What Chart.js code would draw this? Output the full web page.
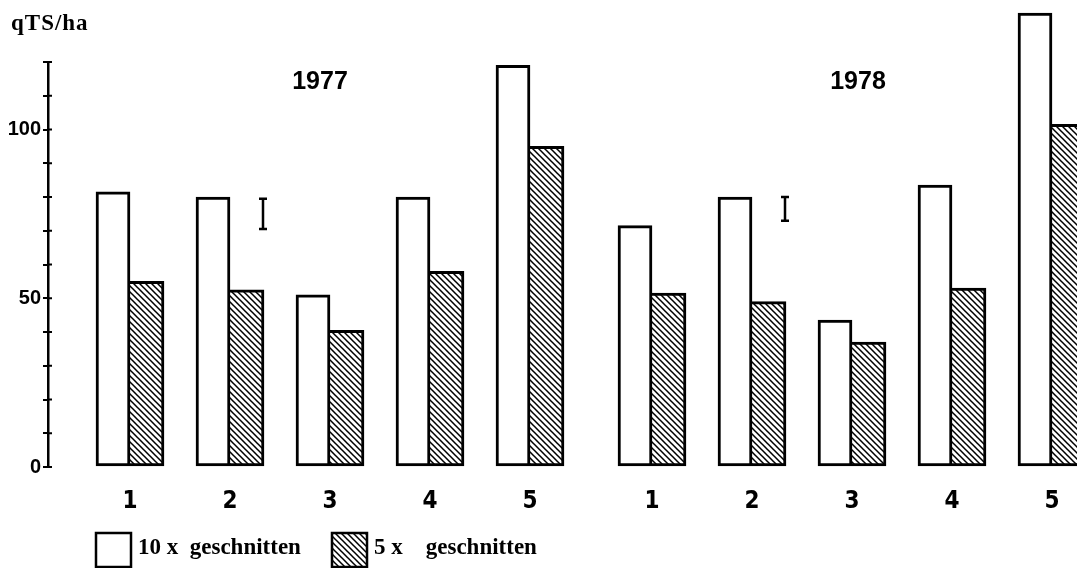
<!DOCTYPE html>
<html>
<head>
<meta charset="utf-8">
<script src="https://cdn.jsdelivr.net/npm/chart.js@4"></script>
<style>
  html, body { margin: 0; padding: 0; background: #fff; }
  #wrap { width: 1077px; height: 568px; position: relative; }
</style>
</head>
<body>
<div id="wrap"><canvas id="chart"></canvas></div>
<script>
// Daten
const groups = ["1", "2", "3", "4", "5"];
const years = ["1977", "1978"];
const cut10 = [81.5, 80, 51, 80, 119, 71.5, 80, 43.5, 83.5, 134.5];
const cut5 = [55, 52.5, 40.5, 58, 95, 51.5, 49, 37, 53, 101.5];
const lsd = [[70.5, 79.5], [73, 80]];
const labelTicks = [0, 50, 100];
const legendNames = ["10 x  geschnitten", "5 x    geschnitten"];

// 5 Gruppen je Jahr, kleine Lücke zwischen den Jahren
const yearGap = 0.22;
const xPos = cut10.map((v, i) => i + Math.floor(i / groups.length) * yearGap);
const xLabels = years.flatMap(() => groups);

function hatch() {
  const c = document.createElement("canvas");
  c.width = 6; c.height = 6;
  const g = c.getContext("2d");
  g.fillStyle = "#fff";
  g.fillRect(0, 0, 6, 6);
  g.strokeStyle = "#000";
  g.lineWidth = 1.5;
  g.beginPath();
  g.moveTo(-1, -1); g.lineTo(7, 7);
  g.moveTo(-1, 5); g.lineTo(1, 7);
  g.moveTo(5, -1); g.lineTo(7, 1);
  g.stroke();
  return g.createPattern(c, "repeat");
}

const extras = {
  id: "extras",
  afterDatasetsDraw(chart) {
    const ctx = chart.ctx;
    const x = chart.scales.x, y = chart.scales.y;
    ctx.save();
    ctx.fillStyle = "#000";
    ctx.strokeStyle = "#000";

    // Einheit
    ctx.font = 'bold 23px "Liberation Serif", serif';
    ctx.letterSpacing = "1px";
    ctx.textAlign = "left";
    ctx.textBaseline = "alphabetic";
    ctx.fillText("qTS/ha", 11, 30);
    ctx.letterSpacing = "0px";

    // Jahre
    ctx.font = 'bold 25px "Liberation Sans", Arial, sans-serif';
    ctx.textAlign = "center";
    ctx.textBaseline = "middle";
    years.forEach((yr, k) => {
      const mid = xPos[k * groups.length + 2];
      ctx.fillText(yr, x.getPixelForValue(mid + (k === 0 ? -0.1 : 0.06)), chart.chartArea.top + 20);
    });

    // GD-Balken
    ctx.lineWidth = 2.5;
    lsd.forEach((r, k) => {
      const px = x.getPixelForValue(xPos[k * groups.length + 1] + 0.33);
      const y0 = y.getPixelForValue(r[0]), y1 = y.getPixelForValue(r[1]);
      ctx.beginPath();
      ctx.moveTo(px, y0); ctx.lineTo(px, y1);
      ctx.moveTo(px - 4, y0); ctx.lineTo(px + 4, y0);
      ctx.moveTo(px - 4, y1); ctx.lineTo(px + 4, y1);
      ctx.stroke();
    });

    // y-Striche beidseitig
    ctx.lineWidth = 2;
    for (let v = 0; v <= y.max; v += 10) {
      const py = y.getPixelForValue(v);
      ctx.beginPath();
      ctx.moveTo(chart.chartArea.left, py); ctx.lineTo(chart.chartArea.left + 4, py);
      ctx.stroke();
    }

    // Legende
    const lx = [96, 332];
    ctx.font = 'bold 23px "Liberation Serif", serif';
    ctx.textAlign = "left";
    ctx.textBaseline = "alphabetic";
    chart.data.datasets.forEach((ds, i) => {
      ctx.fillStyle = ds.backgroundColor;
      ctx.fillRect(lx[i], 533, 35, 34);
      ctx.lineWidth = 2.5;
      ctx.strokeRect(lx[i], 533, 35, 34);
      ctx.fillStyle = "#000";
      ctx.fillText(ds.label, lx[i] + 42, 554);
    });
    ctx.restore();
  }
};

new Chart(document.getElementById("chart"), {
  type: "bar",
  data: {
    datasets: [
      {
        label: legendNames[0],
        data: cut10.map((v, i) => ({ x: xPos[i], y: v })),
        backgroundColor: "#fff",
        borderColor: "#000",
        borderWidth: 3,
        borderSkipped: false,
        clip: false
      },
      {
        label: legendNames[1],
        data: cut5.map((v, i) => ({ x: xPos[i], y: v })),
        backgroundColor: hatch(),
        borderColor: "#000",
        borderWidth: { top: 3, right: 3, bottom: 3, left: 0 },
        borderSkipped: false,
        clip: false
      }
    ]
  },
  options: {
    responsive: true,
    maintainAspectRatio: false,
    animation: false,
    barThickness: 34,
    layout: { padding: { top: 62, left: 0, right: 0, bottom: 0 } },
    plugins: { legend: { display: false }, tooltip: { enabled: false } },
    scales: {
      x: {
        type: "linear",
        offset: false,
        min: -0.82,
        max: 9.47,
        grid: { display: false, offset: false },
        border: { display: false },
        afterBuildTicks: s => { s.ticks = xPos.map(v => ({ value: v })); },
        afterFit: s => { s.height = 101; s.paddingLeft = 0; s.paddingRight = 0; },
        ticks: {
          autoSkip: false,
          maxRotation: 0,
          padding: 12,
          color: "#000",
          font: { family: '"Liberation Sans Narrow", "DejaVu Sans Condensed", sans-serif', size: 24, weight: "bold" },
          callback: (v, i) => xLabels[i]
        }
      },
      y: {
        min: 0,
        max: 120,
        grid: { drawOnChartArea: false, drawTicks: true, tickLength: 5, color: "#000", lineWidth: 2 },
        border: { display: true, color: "#000", width: 2.5 },
        afterFit: s => { s.width = 48; },
        ticks: {
          stepSize: 10,
          autoSkip: false,
          padding: 2,
          color: "#000",
          font: { family: '"Liberation Sans", Arial, sans-serif', size: 20, weight: "bold" },
          callback: v => labelTicks.includes(v) ? String(v) : ""
        }
      }
    }
  },
  plugins: [extras]
});
</script>
</body>
</html>
